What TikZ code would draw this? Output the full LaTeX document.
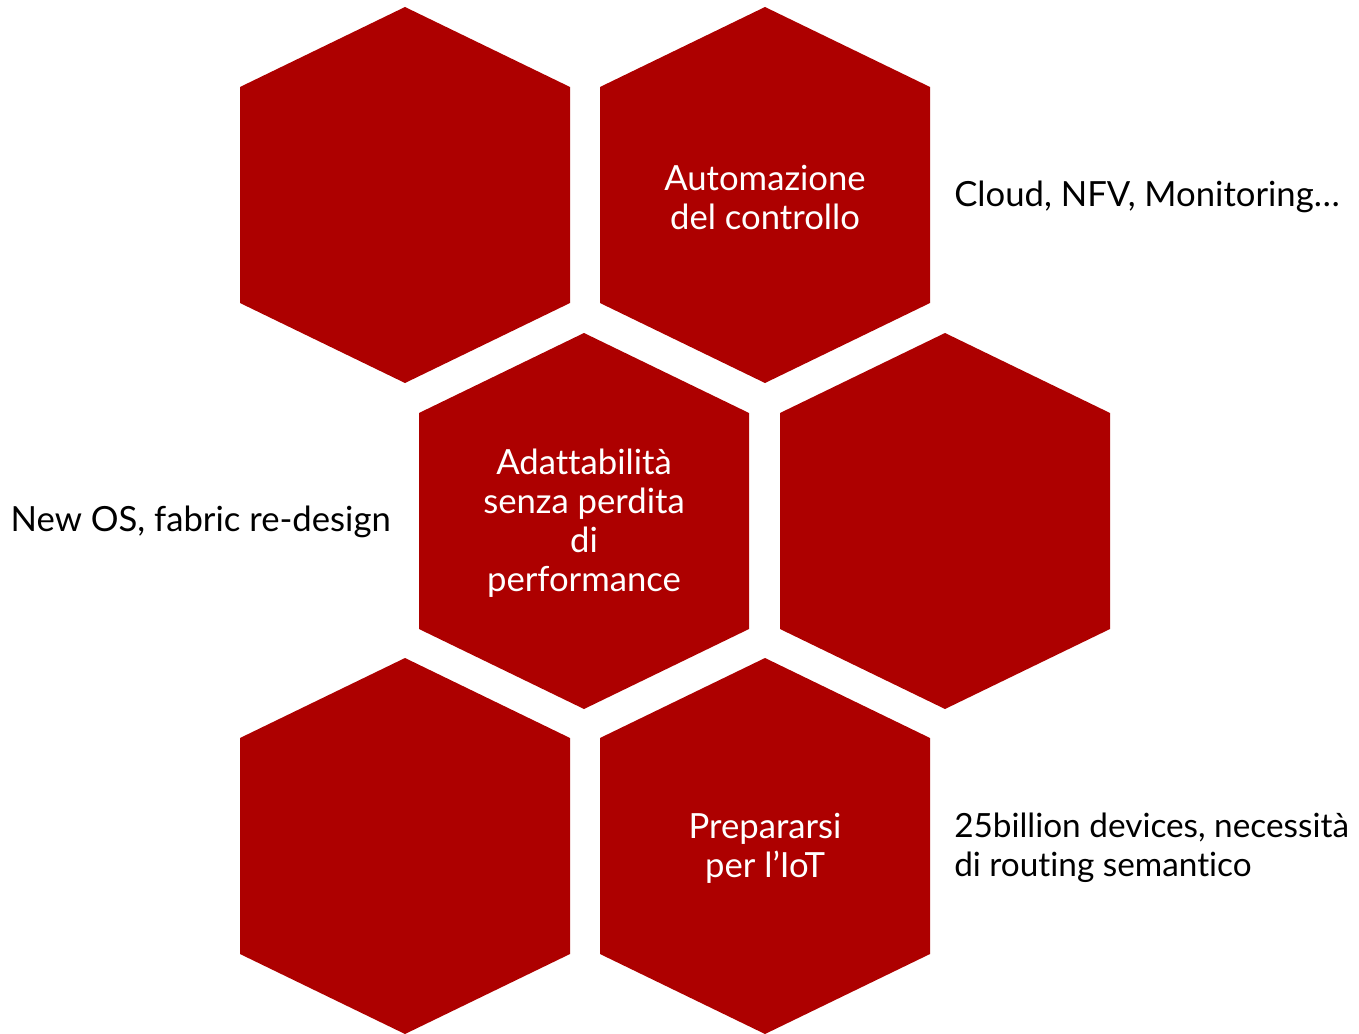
\documentclass[tikz,border=0pt]{standalone}
\usepackage{fontspec}
\setmainfont{Lato}[Ligatures={NoCommon}]
\definecolor{hexred}{HTML}{AD0000}
\newcommand{\hexat}[3]{%
  \fill[hexfill] (#1,#2) ++(0,-188) -- ++(165,80) -- ++(0,216) -- ++(-165,80) -- ++(-165,-80) -- ++(0,-216) -- cycle;
  \coordinate (#3) at (#1,#2);}
\begin{document}
\begin{tikzpicture}[x=0.75pt,y=-0.75pt,
  hexfill/.style={fill=hexred,draw=none},
  txt/.style={font=\fontsize{26}{29.25}\selectfont,inner sep=0pt},
  inlbl/.style={txt,text=white,align=center},
  outlbl/.style={txt,text=black,align=left}]
\useasboundingbox (0,0) rectangle (1359,1034);
\hexat{405}{195}{h1}
\hexat{765}{195}{h2}
\hexat{584}{521}{h3}
\hexat{945}{521}{h4}
\hexat{405}{846}{h5}
\hexat{765}{846}{h6}
\node[inlbl] (t2) at ([yshift=-1.5pt]h2) {Automazione\\del controllo};
\node[inlbl] (t3) at ([yshift=-1.5pt]h3) {Adattabilità\\senza perdita\\di\\performance};
\node[inlbl] (t6) at ([yshift=-1.5pt]h6) {Prepararsi\\per l’IoT};
\node[outlbl,anchor=west] (o2) at (954,197) {Cloud, NFV, Monitoring…};
\node[outlbl,anchor=east] (o3) at (391,522) {New OS, fabric re-design};
\node[outlbl,anchor=west,font=\fontsize{25}{29.25}\selectfont] (o6) at (954,848) {25billion devices, necessità\\di routing semantico};
\end{tikzpicture}
\end{document}
